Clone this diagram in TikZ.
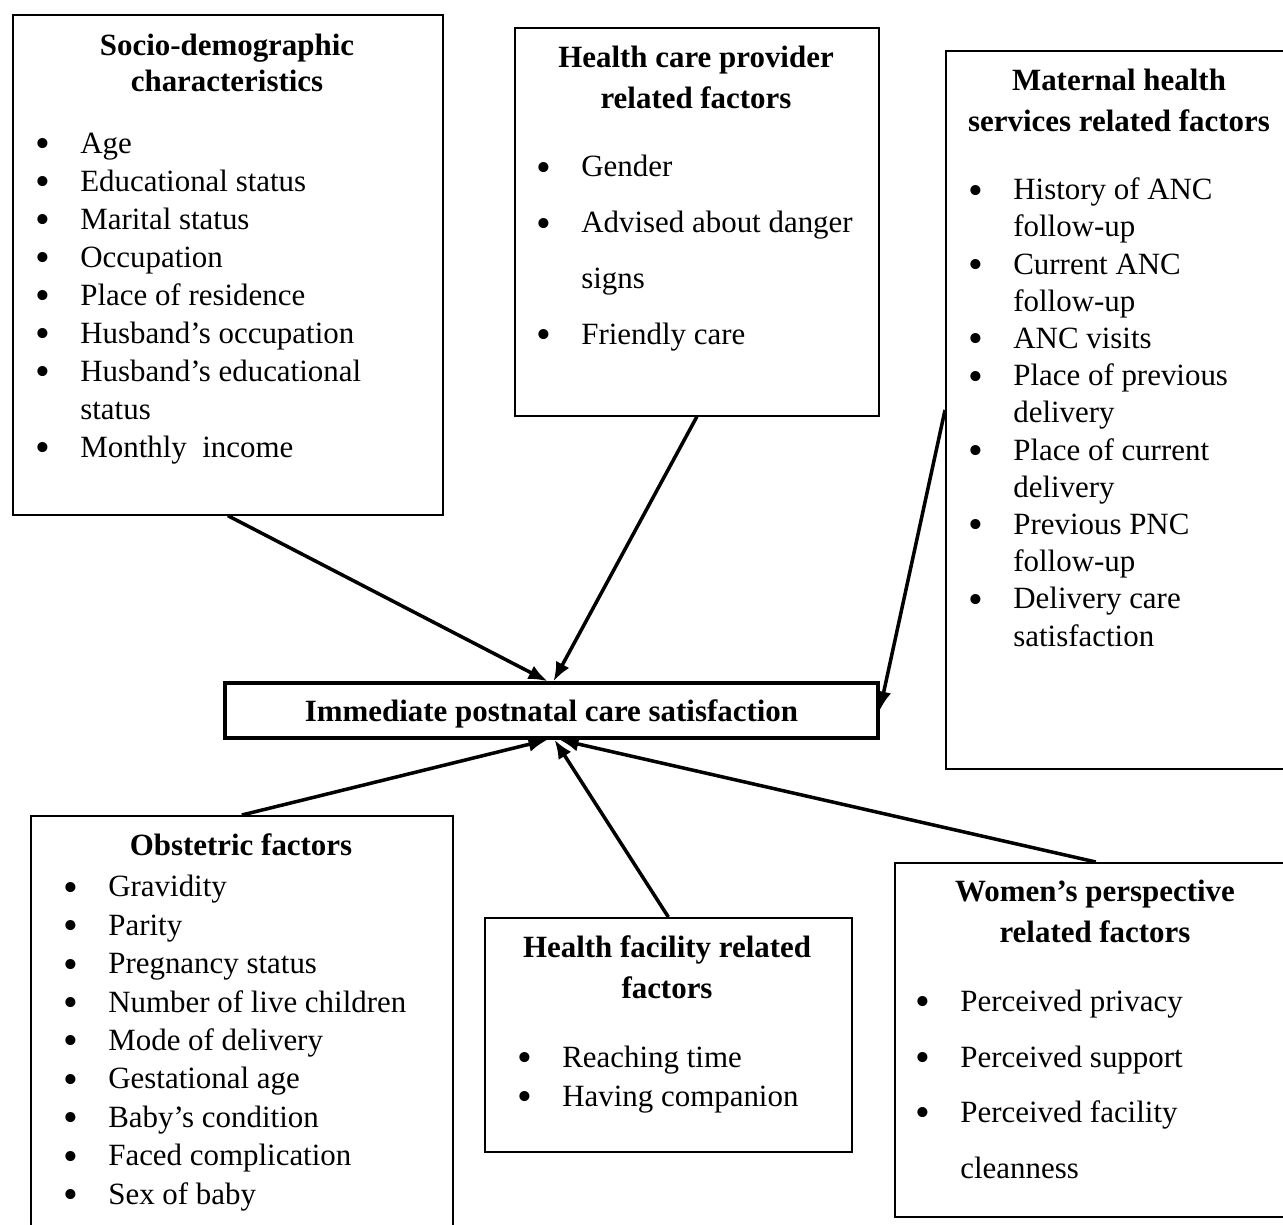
\documentclass[tikz,border=0pt]{standalone}
\usepackage{fontspec}
\setmainfont{Liberation Serif}
\usetikzlibrary{positioning,calc,arrows.meta}
\tikzset{>={Latex[length=3.8mm,width=3mm]}}
\newlength{\bulgap}\setlength{\bulgap}{0.9cm}
\newcommand{\itm}[1]{\makebox[\bulgap][l]{\smash{\raisebox{-2.5pt}{\fontsize{24pt}{24pt}\selectfont\textbullet}}}#1}
\newcommand{\cnt}[1]{\hspace*{\bulgap}#1}
\tikzset{
  factor/.style={draw, rectangle, line width=1pt, anchor=north west, inner sep=0pt},
  heading/.style={anchor=base, align=center, inner sep=0pt, font=\fontsize{17.6pt}{#1}\selectfont\bfseries},
  items/.style={anchor=base west, align=left, inner sep=0pt, font=\fontsize{17.6pt}{#1}\selectfont},
  link/.style={->, line width=2pt}
}

\begin{document}
\begin{tikzpicture}[x=0.02cm, y=-0.02cm]
      \useasboundingbox (0,0) rectangle (1283,1224);
      % boxes of factors (texts sit on the baseline of their last line)
      \node[factor, minimum width=8.6cm, minimum height=10cm] (socio) at (12,14) {};
      \node[heading=0.72cm] (socio-title) at (227,91) {Socio-demographic\\characteristics};
      \node[items=0.76cm] (socio-list) at (35,457) {\itm{Age}\\ \itm{Educational status}\\ \itm{Marital status}\\ \itm{Occupation}\\ \itm{Place of residence}\\ \itm{Husband's occupation}\\ \itm{Husband's educational}\\ \cnt{status}\\ \itm{Monthly~ income}};

      \node[factor, minimum width=7.28cm, minimum height=7.76cm] (provider) at (514,27) {};
      \node[heading=0.82cm] (provider-title) at (696,108) {Health care provider\\related factors};
      \node[items=1.114cm] (provider-list) at (536,344) {\itm{Gender}\\ \itm{Advised about danger}\\ \cnt{signs}\\ \itm{Friendly care}};

      \node[factor, minimum width=6.96cm, minimum height=14.36cm] (maternal) at (945,50) {};
      \node[heading=0.82cm] (maternal-title) at (1119,131) {Maternal health\\services related factors};
      \node[items=0.744cm] (maternal-list) at (968,646) {\itm{History of ANC}\\ \cnt{follow-up}\\ \itm{Current ANC}\\ \cnt{follow-up}\\ \itm{ANC visits}\\ \itm{Place of previous}\\ \cnt{delivery}\\ \itm{Place of current}\\ \cnt{delivery}\\ \itm{Previous PNC}\\ \cnt{follow-up}\\ \itm{Delivery care}\\ \cnt{satisfaction}};

      \node[draw, rectangle, line width=2pt, minimum width=13.06cm, minimum height=1.1cm, text depth=0pt, font=\fontsize{17.6pt}{21pt}\selectfont\bfseries] (central) at (551.5,710.5) {Immediate postnatal care satisfaction};

      \node[factor, minimum width=8.44cm, minimum height=8.6cm] (obstetric) at (30,815) {};
      \node[heading=0.8cm] (obstetric-title) at (241,855) {Obstetric factors};
      \node[items=0.768cm] (obstetric-list) at (63,1204) {\itm{Gravidity}\\ \itm{Parity}\\ \itm{Pregnancy status}\\ \itm{Number of live children}\\ \itm{Mode of delivery}\\ \itm{Gestational age}\\ \itm{Baby's condition}\\ \itm{Faced complication}\\ \itm{Sex of baby}};

      \node[factor, minimum width=7.34cm, minimum height=4.68cm] (facility) at (484,917) {};
      \node[heading=0.82cm] (facility-title) at (667,998) {Health facility related\\factors};
      \node[items=0.78cm] (facility-list) at (517,1106) {\itm{Reaching time}\\ \itm{Having companion}};

      \node[factor, minimum width=8.04cm, minimum height=7.08cm] (women) at (894,862) {};
      \node[heading=0.82cm] (women-title) at (1095,942) {Women's perspective\\related factors};
      \node[items=1.11cm] (women-list) at (915,1178) {\itm{Perceived privacy}\\ \itm{Perceived support}\\ \itm{Perceived facility}\\ \cnt{cleanness}};

      % arrows into the outcome
      \coordinate (matout) at (maternal.west |- 0,410);
      \draw[link] (socio.south) -- ($(central.north)+(-4,0)$);
      \draw[link] (provider.south) -- ($(central.north)+(2,0)$);
      \draw[link] (matout) -- (central.east);
      \draw[link] (obstetric.north) -- ($(central.south)+(-4,0)$);
      \draw[link] (facility.north) -- ($(central.south)+(3,0)$);
      \draw[link] (women.north) -- ($(central.south)+(8,0)$);
\end{tikzpicture}
\end{document}
